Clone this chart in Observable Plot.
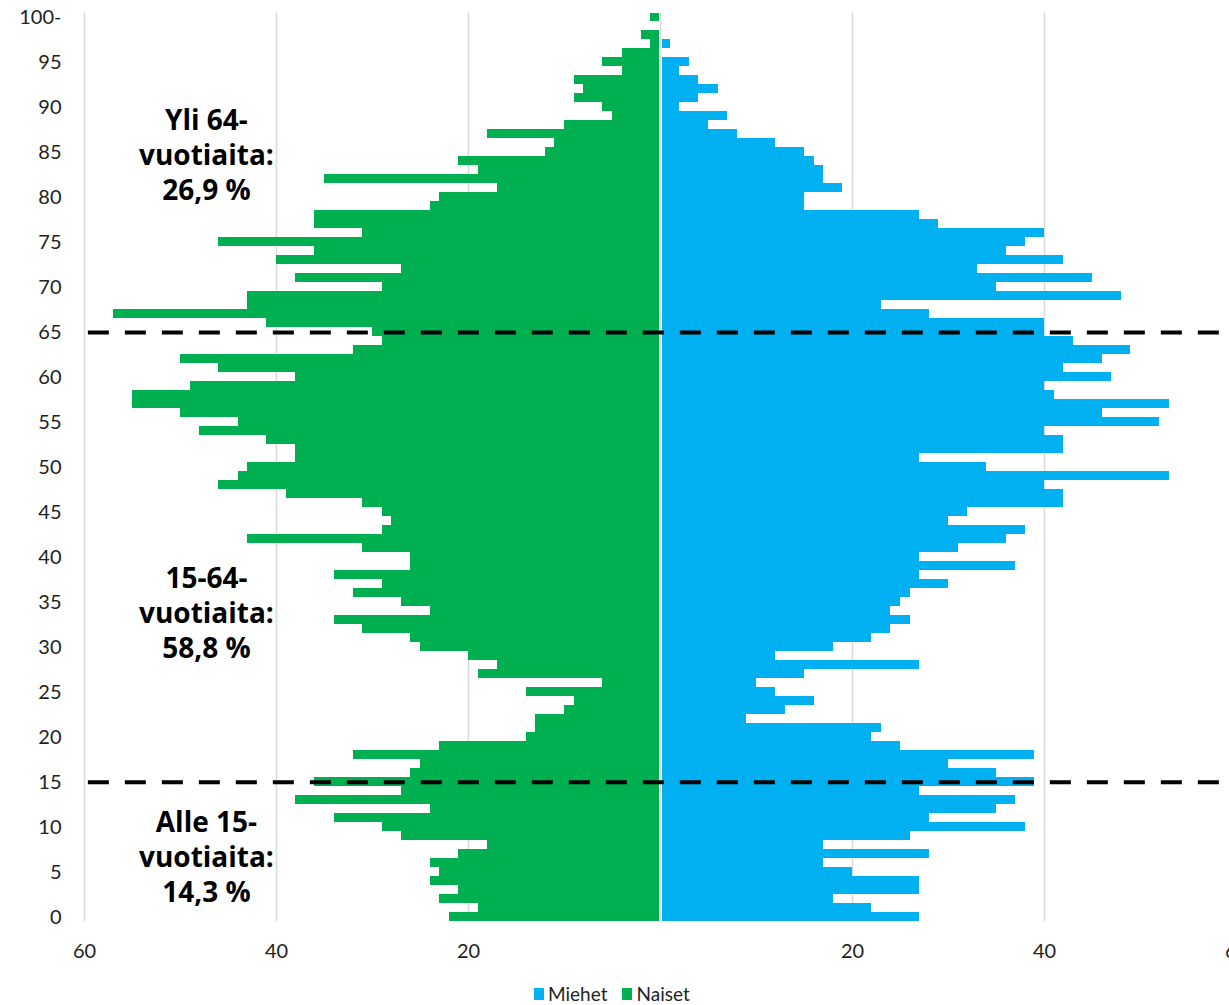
<!DOCTYPE html>
<html>
<head>
<meta charset="utf-8">
<script src="https://cdn.jsdelivr.net/npm/d3@7"></script>
<script src="https://cdn.jsdelivr.net/npm/@observablehq/plot@0.6"></script>
<style>
  html, body { margin: 0; padding: 0; background: #fff; overflow: hidden; }
  #chart { position: relative; width: 1229px; height: 1005px; overflow: hidden; }
  #chart svg { overflow: hidden; display: block; }
  .legend { position: absolute; left: 534px; top: 982px; display: flex; align-items: center;
            font-family: Lato, "Open Sans", sans-serif; font-size: 19px; color: #222; }
  .legend .item { display: flex; align-items: center; margin-right: 15px; }
  .legend .sw { width: 10px; height: 12px; margin-right: 4px; display: inline-block; }
</style>
</head>
<body>
<div id="chart"></div>
<script>
// Ages 0..100
const ages = d3.range(0, 101);
// Naiset (women), age 0..100
const women = [22,19,23,21,24,23,24,21,18,27, 29,34,24,38,27,36,26,25,32,23,
               14,13,13,10,9,14,6,19,17,20, 25,26,31,34,24,27,32,29,34,26,
               26,31,43,29,28,29,31,39,46,44, 43,38,38,41,48,44,50,55,55,49,
               38,46,50,32,29,30,41,57,43,43, 29,38,27,40,36,46,31,36,36,24,
               23,17,35,19,21,12,11,18,10,5, 6,9,8,9,4,6,4,1,2,0, 1];
// Miehet (men), age 0..100
const men   = [27,22,18,27,27,20,17,28,17,26, 38,28,35,37,27,39,35,30,39,25,
               22,23,9,13,16,12,10,15,27,12, 18,22,24,26,24,25,26,30,27,37,
               27,31,36,38,30,32,42,42,40,53, 34,27,42,42,40,52,46,53,41,40,
               47,42,46,49,43,40,40,28,23,48, 35,45,33,42,36,38,40,29,27,15,
               15,19,17,17,16,15,12,8,5,7, 2,4,6,4,2,3,0,1,0,0, 0];
const xTicks = [-60, -40, -20, 20, 40, 60];
const yTicks = d3.range(0, 101, 5);
const groupBreaks = [65, 15];
const groupLabels = ["Yli 64-\nvuotiaita:\n26,9 %", "15-64-\nvuotiaita:\n58,8 %", "Alle 15-\nvuotiaita:\n14,3 %"];
const groupLabelAges = [84.85, 33.95, 6.85];
const seriesNames = ["Miehet", "Naiset"];
const seriesColors = ["#00B0F0", "#00B050"];

const rows = ages.map((a, i) => ({age: a, women: women[i], men: men[i]}));
const notes = groupLabels.map((t, i) => ({text: t, age: groupLabelAges[i]}));

const H = 975;
const plot = Plot.plot({
  width: 1229,
  height: H,
  marginLeft: 84,
  marginRight: -7,
  marginTop: 12.5,
  marginBottom: H - 921.2,
  style: {fontFamily: "Lato, 'Open Sans', sans-serif", fontSize: "20px", color: "#222", background: "#fff"},
  x: {domain: [-60, 60]},
  y: {domain: [-0.5, 100.5]},
  marks: [
    Plot.gridX([-60, -40, -20, 0, 20, 40, 60], {stroke: "#d9d9d9", strokeOpacity: 1, strokeWidth: 1.5}),
    Plot.rectX(rows, {x1: 0, x2: d => -d.women, y1: d => d.age - 0.5, y2: d => d.age + 0.5,
                      fill: seriesColors[1], insetRight: 1.5, shapeRendering: "crispEdges"}),
    Plot.rectX(rows, {x1: 0, x2: d => d.men, y1: d => d.age - 0.5, y2: d => d.age + 0.5,
                      fill: seriesColors[0], insetLeft: 1.5, shapeRendering: "crispEdges"}),
    Plot.ruleY(groupBreaks, {x1: -59.6, x2: 60, stroke: "#000", strokeWidth: 4, strokeDasharray: "21,16"}),
    Plot.text(notes, {x: -47.3, y: "age", text: "text", fontFamily: "'Open Sans', sans-serif",
                      fontWeight: 700, fontSize: 28, lineHeight: 1.25, fill: "#000",
                      textAnchor: "middle", lineAnchor: "middle"}),
    Plot.axisX({ticks: xTicks, tickFormat: d => Math.abs(d), tickSize: 0, tickPadding: 22,
                fontSize: 20, label: null, anchor: "bottom"}),
    Plot.axisY({ticks: yTicks, tickFormat: d => d === 100 ? "100-" : String(d), tickSize: 0,
                tickPadding: 23, fontSize: 20, label: null, anchor: "left"})
  ]
});
const chart = document.getElementById("chart");
chart.appendChild(plot);

const legend = document.createElement("div");
legend.className = "legend";
seriesNames.forEach((n, i) => {
  const it = document.createElement("span");
  it.className = "item";
  const sw = document.createElement("span");
  sw.className = "sw";
  sw.style.background = seriesColors[i];
  it.appendChild(sw);
  it.appendChild(document.createTextNode(n));
  legend.appendChild(it);
});
chart.appendChild(legend);
</script>
</body>
</html>
